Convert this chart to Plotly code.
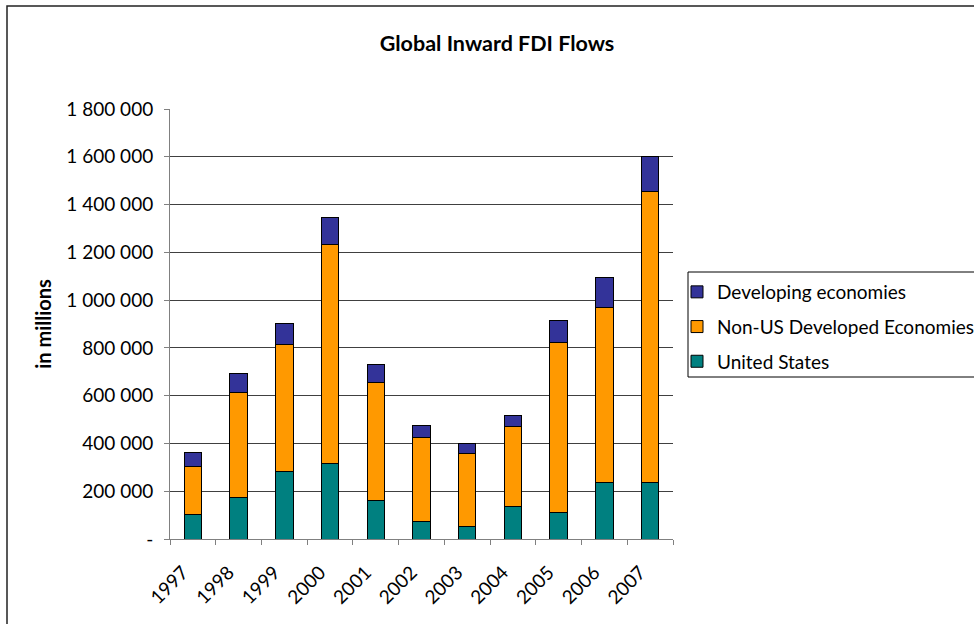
import plotly.graph_objects as go

years = ["1997", "1998", "1999", "2000", "2001", "2002", "2003", "2004", "2005", "2006", "2007"]
united_states = [101000, 175000, 282000, 317000, 161000, 74000, 54000, 135000, 109000, 236000, 236000]
non_us_developed = [202000, 437000, 532000, 915000, 493000, 349000, 302000, 335000, 712000, 735000, 1218000]
developing = [60000, 81000, 90000, 115000, 75000, 54000, 42000, 48000, 95000, 125000, 148000]

y_tick_vals = [0, 200000, 400000, 600000, 800000, 1000000, 1200000, 1400000, 1600000, 1800000]
y_tick_text = ["-", "200 000", "400 000", "600 000", "800 000", "1 000 000", "1 200 000",
               "1 400 000", "1 600 000", "1 800 000"]

FONT = "Lato"
W, H = 974, 624
L, R, T, B = 170, 301, 109, 85
pw, ph = W - L - R, H - T - B

def px_x(x):
    return (x - L) / pw

def px_y(y):
    return (H - B - y) / ph

fig = go.Figure()
series = [
    ("United States", united_states, "#008080", 3),
    ("Non-US Developed Economies", non_us_developed, "#FF9900", 2),
    ("Developing economies", developing, "#333399", 1),
]
for i, (name, vals, color, rank) in enumerate(series):
    fig.add_trace(go.Bar(
        x=years, y=vals, name=name, legendgroup=f"g{i}", legendrank=rank,
        marker=dict(color=color, line=dict(color="black", width=1)),
    ))

fig.update_layout(
    width=W, height=H,
    margin=dict(l=L, r=R, t=T, b=B, pad=0, autoexpand=False),
    barmode="stack", bargap=0.62,
    plot_bgcolor="white", paper_bgcolor="white",
    font=dict(family=FONT, size=19, color="black"),
    title=dict(text="<b>Global Inward FDI Flows</b>", x=497 / W, xanchor="center",
               y=1 - 43 / H, yanchor="middle", yref="container",
               font=dict(family=FONT, size=21.5, color="black")),
    legend=dict(x=px_x(677), y=px_y(273), xanchor="left", yanchor="top",
                bgcolor="rgba(0,0,0,0)", borderwidth=0,
                traceorder="grouped", tracegroupgap=7, itemwidth=30,
                font=dict(family=FONT, size=19, color="black")),
    xaxis=dict(type="category", tickson="boundaries", ticks="outside", ticklen=5,
               tickcolor="#808080", showline=True, linecolor="#808080", linewidth=1,
               showgrid=False, tickangle=-45, tickfont=dict(size=19),
               ticklabelstandoff=14, ticklabelshift=-10),
    yaxis=dict(range=[0, 1800000], tickvals=y_tick_vals, ticktext=y_tick_text,
               ticks="outside", ticklen=5, tickcolor="#808080",
               showline=True, linecolor="#808080", linewidth=1,
               showgrid=True, gridcolor="#404040", gridwidth=1, zeroline=False,
               tickfont=dict(size=19), ticklabelstandoff=7,
               title=dict(text="<b>in millions</b>", standoff=9,
                          font=dict(family=FONT, size=20))),
    shapes=[
        dict(type="rect", xref="paper", yref="paper",
             x0=px_x(7), x1=px_x(1200), y0=px_y(800), y1=px_y(6),
             line=dict(color="#222222", width=1.5), layer="below"),
        dict(type="rect", xref="paper", yref="paper",
             x0=px_x(688), x1=px_x(1100), y0=px_y(377), y1=px_y(272),
             line=dict(color="black", width=1), fillcolor="white", layer="below"),
    ],
)

fig.write_html("out.html")
